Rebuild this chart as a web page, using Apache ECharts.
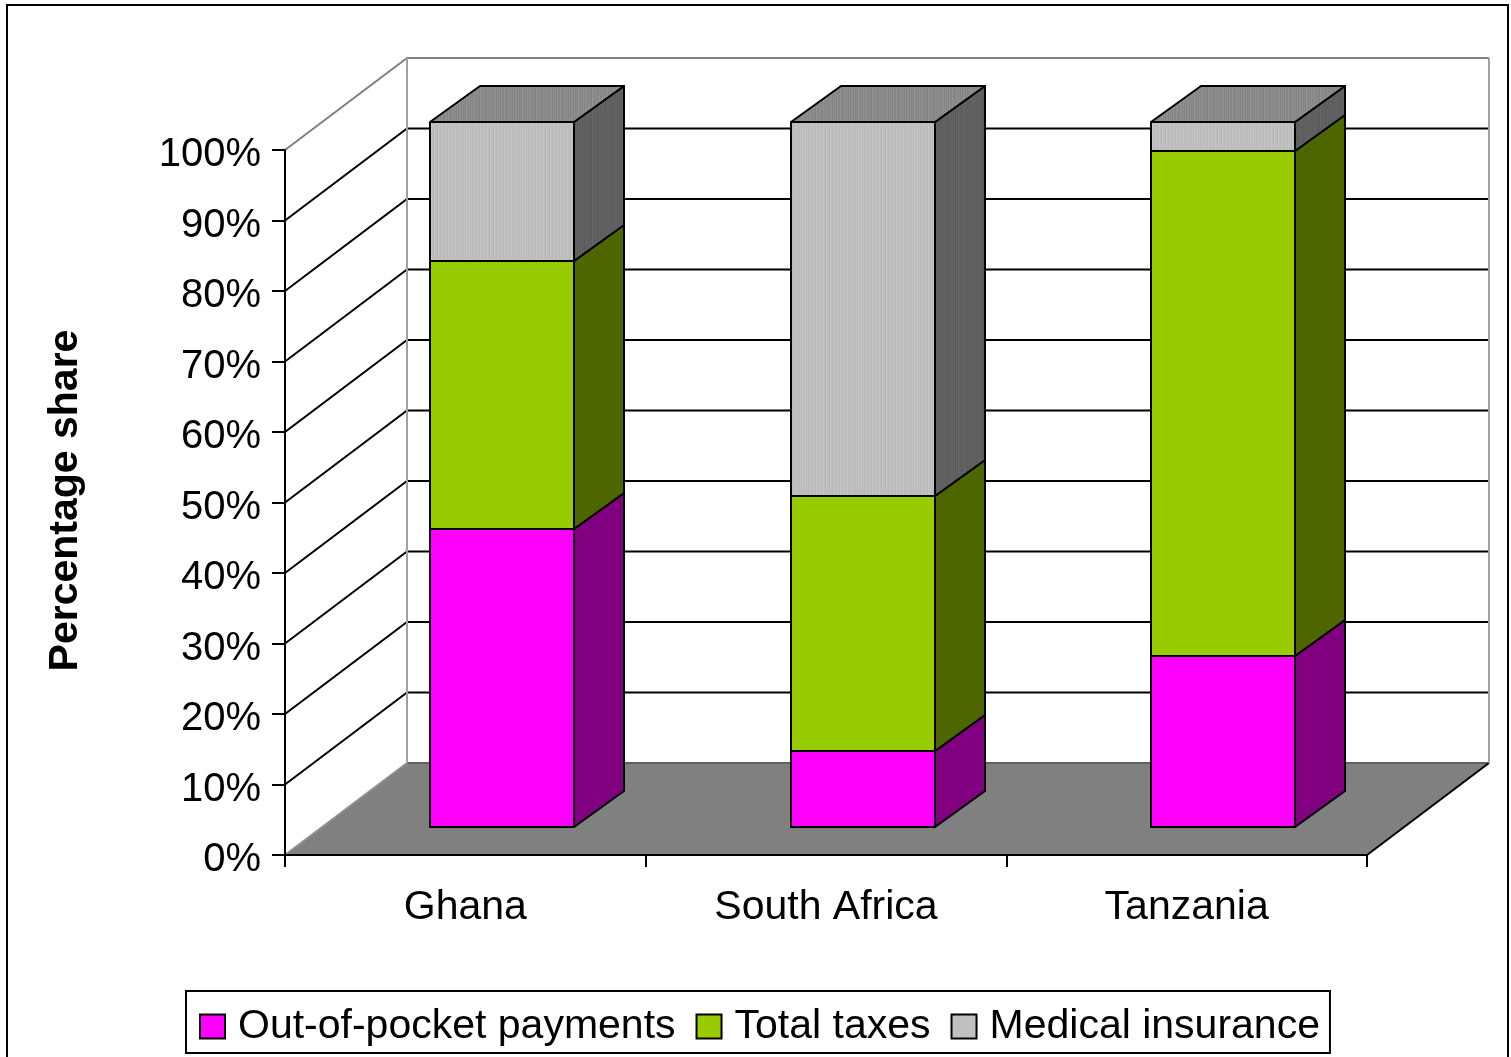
<!DOCTYPE html>
<html>
<head>
<meta charset="utf-8">
<style>
  html, body { margin: 0; padding: 0; background: #fff; }
  #chart { width: 1511px; height: 1057px; }
</style>
<script src="https://cdn.jsdelivr.net/npm/echarts@6/dist/echarts.min.js"></script>
</head>
<body>
<div id="chart"></div>
<script>
const categories = ['Ghana', 'South Africa', 'Tanzania']
const outOfPocket = [42.3, 10.8, 24.3]
const totalTaxes = [38, 36.1, 71.6]
const medicalInsurance = [19.7, 53.1, 4.1]
const gridValues = [10, 20, 30, 40, 50, 60, 70, 80, 90, 100]

const fontFamily = '"Liberation Sans", Arial, sans-serif'
// depth of the fake 3d box, in pixels
const wallDx = 122
const wallDy = -92
const barOffsetDx = 36.7
const barOffsetDy = -28
const barDx = 50
const barDy = -36

function stripes (colors) {
  const canvas = document.createElement('canvas')
  canvas.width = colors.length
  canvas.height = 1
  const ctx = canvas.getContext('2d')
  colors.forEach((c, i) => {
    ctx.fillStyle = c
    ctx.fillRect(i, 0, 1, 1)
  })
  return { image: canvas, repeat: 'repeat' }
}

const grayFront = stripes(['#c4c4c4', '#bcbcbc', '#c0c0c0', '#b8b8b8', '#c6c6c6', '#bebebe', '#bababa'])
const grayTop = stripes(['#909090', '#868686', '#8c8c8c', '#828282', '#929292', '#8a8a8a', '#848484'])
const graySide = stripes(['#646464', '#5c5c5c', '#626262', '#5a5a5a', '#666666', '#5e5e5e', '#606060'])

function cube (color, side, top, hasTop) {
  return function (params, api) {
    const width = api.size([1, 0])[0] * 0.4
    const bottom = api.coord([api.value(0), api.value(1)])
    const upper = api.coord([api.value(0), api.value(2)])
    const left = Math.round(bottom[0] + barOffsetDx - width / 2)
    const right = Math.round(left + width)
    const y0 = Math.round(bottom[1] + barOffsetDy)
    const y1 = Math.round(upper[1] + barOffsetDy)
    const line = { stroke: '#000', lineWidth: 2, lineJoin: 'round' }
    const poly = (points, fill) => ({
      type: 'polygon',
      shape: { points },
      style: Object.assign({ fill }, line)
    })
    const children = [
      poly([[right, y0], [right + barDx, y0 + barDy], [right + barDx, y1 + barDy], [right, y1]], side),
      poly([[left, y0], [right, y0], [right, y1], [left, y1]], color)
    ]
    if (hasTop) {
      children.push(poly([[left, y1], [right, y1], [right + barDx, y1 + barDy], [left + barDx, y1 + barDy]], top))
    }
    return { type: 'group', children }
  }
}

function stackData (values, below) {
  return values.map((v, i) => [i, below[i], below[i] + v])
}

const base = categories.map(() => 0)
const taxBase = outOfPocket.slice()
const insuranceBase = outOfPocket.map((v, i) => v + totalTaxes[i])

const chart = echarts.init(document.getElementById('chart'))
chart.setOption({
  animation: false,
  textStyle: { fontFamily },
  graphic: [{
    type: 'rect',
    silent: true,
    z: -10,
    shape: { x: 7, y: 5, width: 1501, height: 1100 },
    style: { fill: '#fff', stroke: '#000', lineWidth: 2 }
  }],
  grid: { left: 285, top: 150, width: 1082, height: 705 },
  legend: {
    left: 186,
    top: 991,
    padding: [15, 10, 6, 13],
    itemWidth: 25,
    itemHeight: 24,
    itemGap: 20,
    borderColor: '#000',
    borderWidth: 2,
    backgroundColor: '#fff',
    textStyle: { fontFamily, fontSize: 41, color: '#000', padding: [0, 0, 0, 8] },
    data: [
      { name: 'Out-of-pocket payments', icon: 'rect', itemStyle: { color: '#ff00ff', borderColor: '#000', borderWidth: 2 } },
      { name: 'Total taxes', icon: 'rect', itemStyle: { color: '#99cc00', borderColor: '#000', borderWidth: 2 } },
      { name: 'Medical insurance', icon: 'rect', itemStyle: { color: '#c0c0c0', borderColor: '#000', borderWidth: 2 } }
    ]
  },
  xAxis: {
    type: 'category',
    data: categories,
    axisLine: { show: true, lineStyle: { color: '#000', width: 2 } },
    axisTick: { show: true, length: 12, lineStyle: { color: '#000', width: 2 } },
    axisLabel: { margin: 32, fontFamily, fontSize: 41, color: '#000' },
    splitLine: { show: false }
  },
  yAxis: {
    type: 'value',
    min: 0,
    max: 100,
    interval: 10,
    name: 'Percentage share',
    nameLocation: 'middle',
    nameGap: 199,
    nameTextStyle: { fontFamily, fontSize: 41, fontWeight: 'bold', color: '#000', padding: [0, 0, 0, 4] },
    axisLine: { show: true, lineStyle: { color: '#000', width: 2 } },
    axisTick: { show: true, length: 13, lineStyle: { color: '#000', width: 2 } },
    axisLabel: {
      margin: 24,
      fontFamily,
      fontSize: 40,
      color: '#000',
      verticalAlign: 'top',
      lineHeight: 40,
      padding: [-15, 0, 0, 0],
      formatter: '{value}%'
    },
    splitLine: { show: false }
  },
  series: [
    {
      // floor of the box
      type: 'custom',
      silent: true,
      z: -2,
      data: [[0, 0]],
      renderItem (params, api) {
        const rect = params.coordSys
        const y = api.coord([0, 0])[1]
        const x0 = rect.x
        const x1 = rect.x + rect.width
        return {
          type: 'group',
          children: [
            {
              type: 'polygon',
              shape: { points: [[x0, y], [x0 + wallDx, y + wallDy], [x1 + wallDx, y + wallDy], [x1, y]] },
              style: { fill: '#808080' }
            },
            {
              type: 'line',
              shape: { x1: x0, y1: y, x2: x0 + wallDx, y2: y + wallDy },
              style: { stroke: '#909090', lineWidth: 2 }
            },
            {
              type: 'line',
              shape: { x1: x0 + wallDx, y1: y + wallDy, x2: x1 + wallDx, y2: y + wallDy },
              style: { stroke: '#606060', lineWidth: 2 }
            },
            {
              type: 'line',
              shape: { x1, y1: y, x2: x1 + wallDx, y2: y + wallDy },
              style: { stroke: '#000', lineWidth: 2 }
            }
          ]
        }
      }
    },
    {
      // grid lines on the side wall and the back wall
      type: 'custom',
      silent: true,
      z: -1,
      data: gridValues.map(v => [0, v]),
      renderItem (params, api) {
        const rect = params.coordSys
        const v = api.value(1)
        const y = api.coord([0, v])[1]
        const x0 = rect.x
        const x1 = rect.x + rect.width
        const color = v === 100 ? '#808080' : '#000'
        return {
          type: 'polyline',
          shape: { points: [[x0, y], [x0 + wallDx, y + wallDy], [x1 + wallDx, y + wallDy]] },
          style: { fill: 'none', stroke: color, lineWidth: 2 }
        }
      }
    },
    {
      // vertical edges of the walls
      type: 'custom',
      silent: true,
      z: -1,
      data: [[0, 100]],
      renderItem (params, api) {
        const rect = params.coordSys
        const top = api.coord([0, 100])[1]
        const bottom = api.coord([0, 0])[1]
        const x0 = rect.x + wallDx
        const x1 = rect.x + rect.width + wallDx
        const edge = x => ({
          type: 'line',
          shape: { x1: x, y1: top + wallDy, x2: x, y2: bottom + wallDy },
          style: { stroke: '#a0a0a0', lineWidth: 2 }
        })
        return { type: 'group', children: [edge(x0), edge(x1)] }
      }
    },
    {
      name: 'Out-of-pocket payments',
      type: 'custom',
      z: 3,
      encode: { x: 0, y: [1, 2] },
      data: stackData(outOfPocket, base),
      itemStyle: { color: '#ff00ff' },
      renderItem: cube('#ff00ff', '#800080')
    },
    {
      name: 'Total taxes',
      type: 'custom',
      z: 4,
      encode: { x: 0, y: [1, 2] },
      data: stackData(totalTaxes, taxBase),
      itemStyle: { color: '#99cc00' },
      renderItem: cube('#99cc00', '#4d6600')
    },
    {
      name: 'Medical insurance',
      type: 'custom',
      z: 5,
      encode: { x: 0, y: [1, 2] },
      data: stackData(medicalInsurance, insuranceBase),
      itemStyle: { color: '#c0c0c0' },
      renderItem: cube(grayFront, graySide, grayTop, true)
    }
  ]
})
</script>
</body>
</html>
